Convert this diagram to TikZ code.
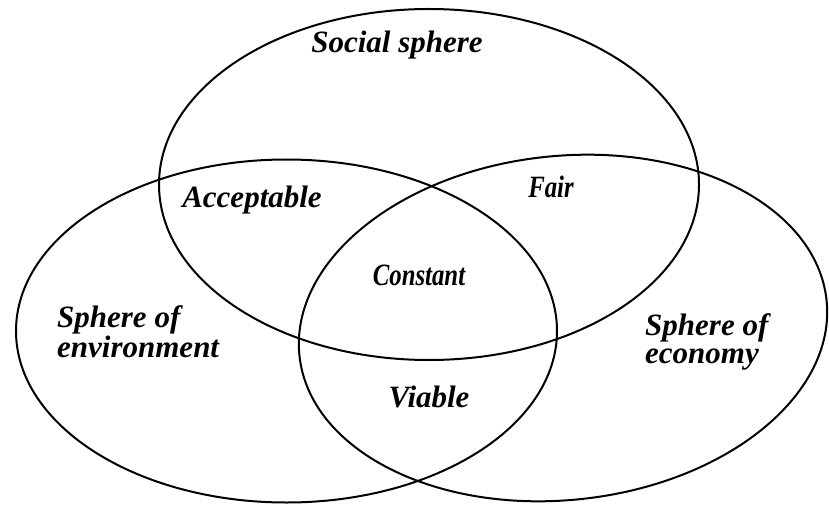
\documentclass[tikz,border=0pt]{standalone}
\usepackage{fontspec}
\setmainfont{Liberation Serif}
\newfontfamily\narrowfont[FakeStretch=0.8]{Liberation Serif}
\usepackage{tikz}

\tikzset{
  sphere/.style={line width=2pt},
  lbl/.style={font=\fontsize{31}{28}\selectfont\bfseries\itshape, inner sep=0pt, anchor=base},
  narrowlbl/.style={font=\fontsize{31}{28}\selectfont\narrowfont\bfseries\itshape, inner sep=0pt, anchor=base},
}

\begin{document}
\begin{tikzpicture}[x=1pt,y=1pt]
\useasboundingbox (0,0) rectangle (829,504);

\draw [sphere] (429,319.5) ellipse [x radius=270, y radius=175.5];
\draw [sphere] (286.5,173) ellipse [x radius=270.5, y radius=171.5];
\draw [sphere, rotate around={6:(563,176)}] (563,176) ellipse [x radius=265, y radius=172];

\node [lbl] (social) at (397,451) {Social sphere};
\node [lbl] (accept) at (252,297) {Acceptable};
\node [narrowlbl] (fair) at (551,306) {Fair};
\node [narrowlbl] (const) at (419,219) {Constant};
\node [lbl] (viable) at (429,97) {Viable};
\node [lbl, anchor=base west, align=left] (env) at (57,147) {Sphere of\\environment};
\node [lbl, anchor=base west, align=left] (eco) at (645,141) {Sphere of\\economy};
\end{tikzpicture}
\end{document}
